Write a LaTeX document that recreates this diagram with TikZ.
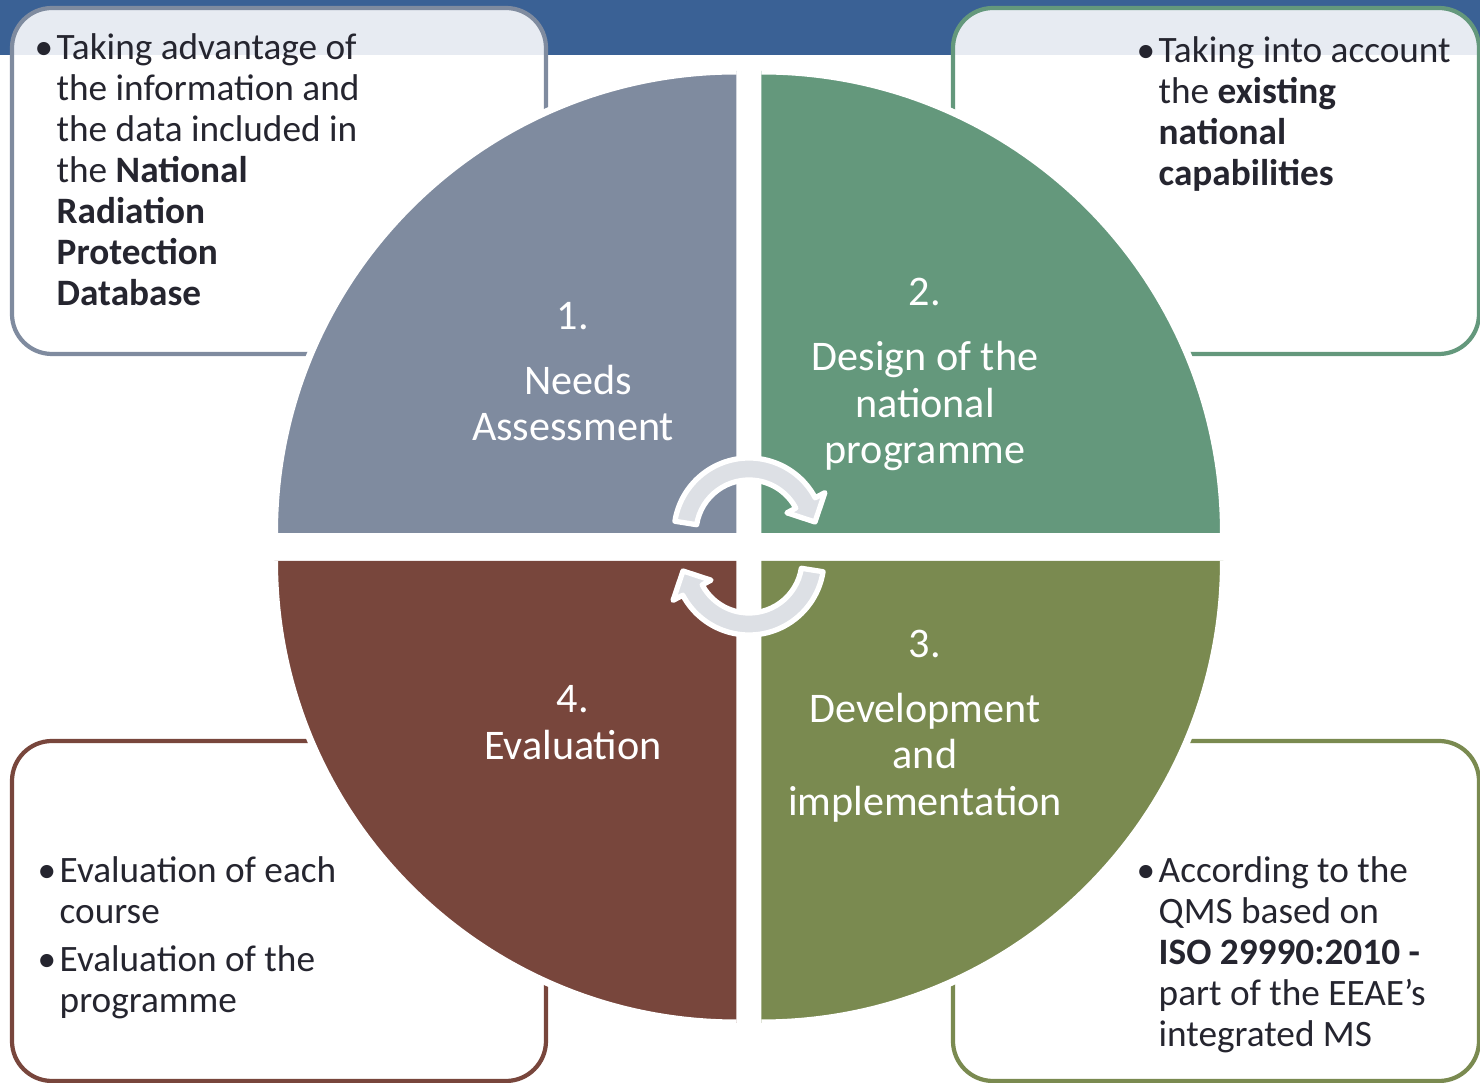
\documentclass[tikz,border=0pt]{standalone}
\usepackage{fontspec}
\setmainfont{Carlito}
\usetikzlibrary{calc}

\definecolor{barblue}{RGB}{58,97,149}
\definecolor{needscol}{RGB}{127,139,159}
\definecolor{designcol}{RGB}{100,152,124}
\definecolor{developcol}{RGB}{122,138,80}
\definecolor{evalcol}{RGB}{120,70,60}
\definecolor{notetext}{RGB}{37,37,47}
\definecolor{cyclefill}{RGB}{221,224,229}

% bullet list with manual line breaks
\newcommand{\notelist}[1]{\begin{tabular}[t]{@{}p{0.22cm}@{}l@{}}#1\end{tabular}}

\tikzset{
	note/.style={rounded corners=0.4cm, line width=1.2pt, fill=white, fill opacity=0.88},
	rim/.style={white, line width=2pt},
	notetxt/.style={anchor=base west, inner sep=0pt, text=notetext,
		font=\fontsize{10.6}{11.66}\selectfont},
	steplabel/.style={text=white, align=center, inner sep=0pt,
		font=\fontsize{12}{13.2}\selectfont},
	cycarrow/.pic={
		\draw[white, line width=1.5pt, fill=cyclefill, line join=round]
		(171:0.53) arc[start angle=171, end angle=28, radius=0.53]
		-- (28:0.43) -- (0.66,0.11) -- (28:0.86) -- (28:0.75)
		arc[start angle=28, end angle=171, radius=0.75] -- cycle;
	}
}

\begin{document}
\begin{tikzpicture}
	% parameters of the pie
	\def\rpie{4.62}  % radius of each quarter
	\def\gx{0.125}   % half gap, horizontal
	\def\gy{0.14}    % half gap, vertical
	
	\useasboundingbox (-7.49,-5.36) rectangle (7.31,5.47);
	\clip (-7.49,-5.36) rectangle (7.31,5.47);
	
	% title bar
	\fill[barblue] (-7.49,4.92) rectangle (7.31,5.47);
	
	% note boxes in the corners
	\draw[note, draw=needscol] (-7.37,1.93) rectangle (-2.03,5.39);
	\draw[note, draw=designcol] (2.04,1.93) rectangle (7.30,5.39);
	\draw[note, draw=evalcol] (-7.37,-5.34) rectangle (-2.03,-1.94);
	\draw[note, draw=developcol] (2.04,-5.34) rectangle (7.30,-1.94);
	
	% quarters of the cycle
	\foreach \col/\sx/\sy/\ang in {needscol/-1/1/90, designcol/1/1/0,
		developcol/1/-1/270, evalcol/-1/-1/180}{
		\fill[\col] (\sx*\gx,\sy*\gy) -- ++(\ang:\rpie)
		arc[start angle=\ang, delta angle=90, radius=\rpie] -- cycle;
		\draw[rim] (\sx*\gx,\sy*\gy) ++(\ang:\rpie)
		arc[start angle=\ang, delta angle=90, radius=\rpie];
	}
	
	% step labels
	\node[steplabel] (step1) at (-1.76,1.755) {1.\\[5.3pt]\hspace*{0.1cm}Needs\\Assessment};
	\node[steplabel] (step2) at (1.76,1.725) {2.\\[5.3pt]Design of the\\national\\programme};
	\node[steplabel] (step3) at (1.76,-1.79) {3.\\[5.3pt]Development\\and\\implementation};
	\node[steplabel] (step4) at (-1.76,-1.755) {4.\\Evaluation};
	
	% turning arrows in the middle
	\pic at (0,0.14) {cycarrow};
	\pic[rotate=180] at (0,-0.13) {cycarrow};
	
	% note texts
	\node[notetxt] (needsnote) at (-7.15,4.87) {\notelist{
			\textbullet & Taking advantage of\\
			& the information and\\
			& the data included in\\
			& the \textbf{National}\\
			& \textbf{Radiation}\\
			& \textbf{Protection}\\
			& \textbf{Database}}};
	\node[notetxt] (designnote) at (3.87,4.84) {\notelist{
			\textbullet & Taking into account\\
			& the \textbf{existing}\\
			& \textbf{national}\\
			& \textbf{capabilities}}};
	\node[notetxt] (evalnote) at (-7.12,-3.36) {\notelist{
			\textbullet & Evaluation of each\\
			& course\\[2pt]
			\textbullet & Evaluation of the\\
			& programme}};
	\node[notetxt] (developnote) at (3.87,-3.36) {\notelist{
			\textbullet & According to the\\
			& QMS based on\\
			& \textbf{ISO 29990:2010 -}\\
			& part of the EEAE’s\\
			& integrated MS}};
	
\end{tikzpicture}
\end{document}
